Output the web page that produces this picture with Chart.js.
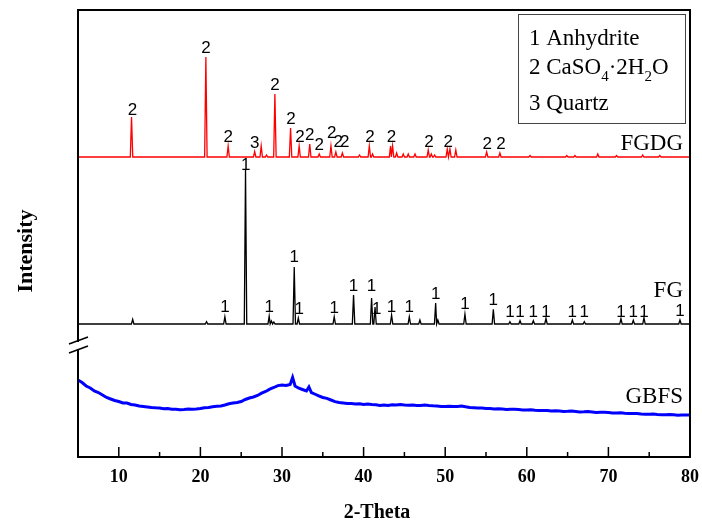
<!DOCTYPE html>
<html>
<head>
<meta charset="utf-8">
<title>XRD patterns</title>
<script src="https://cdn.jsdelivr.net/npm/chart.js@4.4.1/dist/chart.umd.min.js"></script>
<style>
    body { margin: 0; background: #fff; }
    #wrap { width: 702px; height: 526px; }
</style>
</head>
<body>
<div id="wrap"><canvas id="xrdChart" width="702" height="526"></canvas></div>
<script>
// ==================== DATA ====================
const xTicks = [10, 20, 30, 40, 50, 60, 70, 80];
const xMinorTicks = [15, 25, 35, 45, 55, 65, 75];

// FGDG (red) - baseline offset and peaks [2-theta, height above baseline]
const fgdgBase = 300;
const fgdgPeakPos = [11.56, 20.67, 23.4, 26.65, 27.45, 28.1, 29.13, 31.05, 32.1, 33.4, 34.56, 36.0, 36.6, 37.4, 39.5, 40.7, 41.1,
    43.3, 43.55, 44.05, 44.86, 45.47, 46.3, 47.92, 48.3, 48.7, 50.25, 50.58, 51.3, 55.08, 56.7, 60.4, 64.9, 65.9, 68.7, 71.0, 74.2, 76.3];
const fgdgPeakHeight = [40, 100, 11, 5.5, 11, 2, 63, 29, 11, 13, 3, 11, 5, 4, 2, 11, 3,
    11, 11, 4, 3, 3, 3, 7, 3, 2, 8, 8, 7, 5, 4, 1.5, 1.5, 1.5, 3, 1.5, 2, 1.5];
const fgdgLabelPos = [11.68, 20.67, 23.4, 26.67, 29.13, 31.1, 32.2, 33.4, 34.56, 36.08, 36.9, 37.7, 40.77, 43.43, 48.0, 50.37, 55.15, 56.83];
const fgdgLabelText = ['2', '2', '2', '3', '2', '2', '2', '2', '2', '2', '2', '2', '2', '2', '2', '2', '2', '2'];
const fgdgLabelY = [347, 409, 320, 314, 372, 338, 320, 322, 312, 324, 315, 315, 320, 320, 315, 315, 313, 313];

// FG (black)
const fgBase = 133;
const fgPeakPos = [11.7, 20.75, 23.0, 25.53, 28.43, 28.7, 29.0, 31.5, 32.0, 36.4, 38.77, 40.98, 41.4, 43.43, 45.6, 46.9, 48.83, 49.1,
    52.42, 55.9, 57.93, 59.17, 60.8, 62.35, 65.58, 67.05, 71.54, 73.05, 74.36, 78.77];
const fgPeakHeight = [4.7, 2.3, 7.3, 154, 8, 3, 2, 57, 6, 7.3, 29, 26, 17, 9, 7.3, 4, 21, 4,
    10, 14.7, 2.3, 3.3, 3.3, 5.7, 4, 2.3, 5.3, 3.7, 6.3, 4];
const fgLabelPos = [23.0, 25.57, 28.43, 31.5, 32.1, 36.4, 38.77, 40.98, 41.6, 43.43, 45.6, 48.83, 52.42, 55.9,
    57.93, 59.17, 60.8, 62.35, 65.58, 67.05, 71.54, 73.05, 74.36, 78.77];
const fgLabelY = [150, 292, 150, 200, 148, 149, 171, 171, 148, 150, 150, 163, 153, 157,
    145, 145, 145, 145, 145, 145, 145, 145, 145, 146];

// GBFS (blue) - amorphous hump, read every 0.5 deg
const gbfsTheta = [5, 5.5, 6, 6.5, 7, 7.5, 8, 8.5, 9, 9.5, 10, 10.5, 11, 11.5, 12, 12.5, 13, 13.5, 14, 14.5, 15, 15.5, 16, 16.5, 17, 17.5,
    18, 18.5, 19, 19.5, 20, 20.5, 21, 21.5, 22, 22.5, 23, 23.5, 24, 24.5, 25, 25.5, 26, 26.5, 27, 27.5, 28, 28.5, 29, 29.5, 30, 30.5,
    31, 31.3, 31.6, 32, 32.5, 33, 33.3, 33.6, 34, 34.5, 35, 35.5, 36, 36.5, 37, 37.5, 38, 38.5, 39, 39.5, 40, 40.5, 41, 41.5, 42, 42.5,
    43, 43.5, 44, 44.5, 45, 45.5, 46, 46.5, 47, 47.5, 48, 48.5, 49, 49.5, 50, 50.5, 51, 51.5, 52, 52.5, 53, 53.5, 54, 54.5, 55, 55.5,
    56, 56.5, 57, 57.5, 58, 58.5, 59, 59.5, 60, 60.5, 61, 61.5, 62, 62.5, 63, 63.5, 64, 64.5, 65, 65.5, 66, 66.5, 67, 67.5, 68, 68.5,
    69, 69.5, 70, 70.5, 71, 71.5, 72, 72.5, 73, 73.5, 74, 74.5, 75, 75.5, 76, 76.5, 77, 77.5, 78, 78.5, 79, 79.5, 80];
const gbfsIntensity = [77, 74.5, 71, 69, 66, 64.5, 62, 59.5, 58, 56.5, 55.5, 54, 54, 52.5, 52, 51, 50.5, 50, 49.5, 49.2, 49, 48.2, 48.5, 47.8, 47.7, 47.2,
    47.5, 47.9, 47.7, 48, 48.5, 49.3, 49.5, 50.2, 50.8, 51.1, 52, 53.3, 54, 54.6, 55.5, 57.5, 59, 60, 61.5, 63.8, 65.5, 67.8, 69.5, 71.4, 72, 71.5,
    72.5, 79.5, 71, 69, 67.5, 66, 70, 64.5, 63, 61.2, 59.5, 58.6, 57, 55.4, 54.5, 54, 53.5, 53.4, 53, 53.3, 52.5, 52.9, 52.5, 52.2, 51.5, 51.9,
    51.5, 52.2, 52, 52.6, 52, 51.8, 52, 51.4, 51.5, 51.9, 51.5, 51.2, 51, 50.4, 50.5, 50.8, 50.5, 50.6, 51, 50.2, 49.5, 49.3, 49, 48.9, 48.5, 48.6,
    48, 48.3, 48, 47.6, 47.7, 47.8, 47.5, 47.1, 47, 47.2, 46.7, 46.4, 46.5, 46.6, 46, 46.3, 46, 45.6, 45.7, 45.9, 45.5, 45.1, 45.2, 45.4, 45, 44.6,
    44.7, 44.8, 44.5, 44.1, 44, 44.2, 43.7, 43.5, 43.4, 43.6, 43, 42.7, 42.8, 42.9, 42.5, 42.2, 42.3, 42.4, 42.2, 41.8, 42, 42.1, 42];

const seriesNames = ['FGDG', 'FG', 'GBFS'];
const seriesColors = ['#ff0000', '#000000', '#0000ff'];
const seriesNameY = [307, 160, 54];
const legendLines = ['1 Anhydrite', '2 CaSO4·2H2O', '3 Quartz'];

// ==================== HELPERS ====================
function buildPattern(pos, height, base) {
    const pts = [{ x: 5, y: base }];
    pos.forEach((p, i) => {
        pts.push({ x: p - 0.15, y: base }, { x: p, y: base + height[i] }, { x: p + 0.15, y: base });
    });
    pts.push({ x: 80, y: base });
    return pts.sort((a, b) => a.x - b.x);
}

const serif = '"Liberation Serif", "Times New Roman", serif';
const sans = '"Liberation Sans", Arial, sans-serif';

// ==================== DECORATION PLUGIN ====================
const decorPlugin = {
    id: 'decor',
    afterDraw(chart) {
        const ctx = chart.ctx;
        const xs = chart.scales.x, ys = chart.scales.y;
        const a = chart.chartArea;
        ctx.save();

        // frame
        ctx.strokeStyle = '#000';
        ctx.lineWidth = 2;
        ctx.strokeRect(a.left, a.top, a.right - a.left, a.bottom - a.top);

        // inside ticks on bottom axis
        ctx.lineWidth = 1.5;
        ctx.beginPath();
        xTicks.forEach(v => { const px = xs.getPixelForValue(v); ctx.moveTo(px, a.bottom); ctx.lineTo(px, a.bottom - 10); });
        xMinorTicks.forEach(v => { const px = xs.getPixelForValue(v); ctx.moveTo(px, a.bottom); ctx.lineTo(px, a.bottom - 5); });
        ctx.stroke();

        // axis break on the left
        ctx.fillStyle = '#fff';
        ctx.fillRect(a.left - 3, 342, 6, 7);
        ctx.lineWidth = 1.6;
        ctx.beginPath();
        ctx.moveTo(a.left - 9, 344); ctx.lineTo(a.left + 10, 337);
        ctx.moveTo(a.left - 9, 353); ctx.lineTo(a.left + 10, 346);
        ctx.stroke();

        // peak labels
        ctx.fillStyle = '#000';
        ctx.font = '17px ' + sans;
        ctx.textAlign = 'center';
        ctx.textBaseline = 'middle';
        fgdgLabelPos.forEach((p, i) => ctx.fillText(fgdgLabelText[i], xs.getPixelForValue(p), ys.getPixelForValue(fgdgLabelY[i])));
        fgLabelPos.forEach((p, i) => ctx.fillText('1', xs.getPixelForValue(p), ys.getPixelForValue(fgLabelY[i])));

        // series names
        ctx.font = '23px ' + serif;
        ctx.textAlign = 'right';
        ctx.textBaseline = 'alphabetic';
        seriesNames.forEach((n, i) => ctx.fillText(n, a.right - 7, ys.getPixelForValue(seriesNameY[i])));

        // legend box
        ctx.lineWidth = 1;
        ctx.strokeStyle = '#444';
        ctx.strokeRect(518.5, 14.5, 167, 109);
        ctx.textAlign = 'left';
        ctx.fillText(legendLines[0], 529, 45);
        ctx.fillText(legendLines[2], 529, 110);
        // formula line with subscripts
        let x = 529;
        const parts = [['2 CaSO', 0], ['4', 1], ['·2H', 0], ['2', 1], ['O', 0]];
        parts.forEach(([t, sub]) => {
            ctx.font = (sub ? '15px ' : '23px ') + serif;
            ctx.fillText(t, x, sub ? 81 : 74);
            x += ctx.measureText(t).width;
        });

        // axis titles
        ctx.font = 'bold 20px ' + serif;
        ctx.textAlign = 'center';
        ctx.textBaseline = 'middle';
        ctx.fillText('2-Theta', 377, 513);
        ctx.translate(26, 251);
        ctx.rotate(-Math.PI / 2);
        ctx.font = 'bold 22px ' + serif;
        ctx.fillText('Intensity', 0, 0);
        ctx.restore();
    }
};

// ==================== CHART ====================
const datasets = [
    { label: 'FGDG', data: buildPattern(fgdgPeakPos, fgdgPeakHeight, fgdgBase), borderColor: seriesColors[0], borderWidth: 1.3 },
    { label: 'FG', data: buildPattern(fgPeakPos, fgPeakHeight, fgBase), borderColor: seriesColors[1], borderWidth: 1.3 },
    { label: 'GBFS', data: gbfsTheta.map((t, i) => ({ x: t, y: gbfsIntensity[i] })), borderColor: seriesColors[2], borderWidth: 3 }
].map(d => ({ ...d, pointRadius: 0, tension: 0, fill: false }));

new Chart(document.getElementById('xrdChart').getContext('2d'), {
    type: 'line',
    data: { datasets },
    options: {
        responsive: false,
        animation: false,
        layout: { padding: { top: 10, right: 12, left: 0, bottom: 0 } },
        plugins: { legend: { display: false }, tooltip: { enabled: false } },
        scales: {
            x: {
                type: 'linear',
                min: 5,
                max: 80,
                afterBuildTicks: s => { s.ticks = xTicks.map(v => ({ value: v })); },
                afterFit: s => { s.height = 69; s.paddingLeft = 0; s.paddingRight = 0; },
                grid: { display: false, drawTicks: false },
                border: { display: false },
                ticks: { font: { family: serif, size: 18, weight: 'bold' }, color: '#000', padding: 10, maxRotation: 0 }
            },
            y: {
                type: 'linear',
                min: 0,
                max: 447,
                afterFit: s => { s.width = 78; },
                grid: { display: false, drawTicks: false },
                border: { display: false },
                ticks: { display: false }
            }
        }
    },
    plugins: [decorPlugin]
});
</script>
</body>
</html>
